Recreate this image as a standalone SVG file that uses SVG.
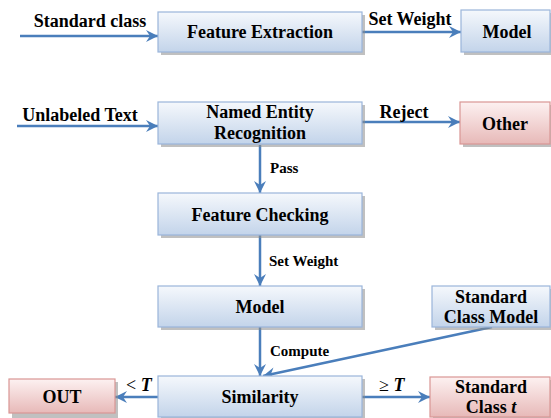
<svg xmlns="http://www.w3.org/2000/svg" width="551" height="418" viewBox="0 0 551 418" font-family="'Liberation Serif', 'DejaVu Serif', serif">
  <defs>
    <linearGradient id="gBlue" x1="0" y1="0" x2="0" y2="1">
      <stop offset="0" stop-color="#f5f8fc"/>
      <stop offset="1" stop-color="#c3d4ea"/>
    </linearGradient>
    <linearGradient id="gPink" x1="0" y1="0" x2="0" y2="1">
      <stop offset="0" stop-color="#fdf1f1"/>
      <stop offset="1" stop-color="#e7b9b8"/>
    </linearGradient>
    <marker id="arr" markerUnits="userSpaceOnUse" markerWidth="14" markerHeight="14" viewBox="0 0 14 14" refX="13" refY="7" orient="auto">
      <path d="M1,1 L13,7 L1,13 L5,7 z" fill="#4a7ebb"/>
    </marker>
  </defs>
  <style>
    .shadow { fill: #8c8c8c; opacity: 0.55; }
    .blue { fill: url(#gBlue); stroke: #9ab5da; stroke-width: 1.2; }
    .pink { fill: url(#gPink); stroke: #d99694; stroke-width: 1.2; }
    text { font-weight: bold; fill: #000; }
    .node { font-size: 18px; text-anchor: middle; }
    .lbl { font-size: 18px; }
    .small { font-size: 15px; }
    .edge { stroke: #4a7ebb; stroke-width: 2.5; fill: none; marker-end: url(#arr); }
  </style>

  <!-- connectors -->
  <g id="connectors">
    <line class="edge" x1="20" y1="36" x2="158" y2="36"/>
    <line class="edge" x1="362" y1="32" x2="461" y2="32"/>
    <line class="edge" x1="17" y1="126" x2="158" y2="126"/>
    <line class="edge" x1="362" y1="122" x2="460" y2="122"/>
    <line class="edge" x1="260" y1="145" x2="260" y2="193"/>
    <line class="edge" x1="260" y1="235" x2="260" y2="286"/>
    <line class="edge" x1="260" y1="327" x2="260" y2="376"/>
    <line class="edge" x1="492" y1="327" x2="263" y2="376"/>
    <line class="edge" x1="158" y1="397" x2="115" y2="397"/>
    <line class="edge" x1="362" y1="397" x2="430" y2="397"/>

    <text class="lbl" x="90" y="27" text-anchor="middle">Standard class</text>
    <text class="lbl" x="410" y="25" text-anchor="middle">Set Weight</text>
    <text class="lbl" x="80" y="121" text-anchor="middle">Unlabeled Text</text>
    <text class="lbl" x="404" y="118" text-anchor="middle">Reject</text>
    <text class="small" x="270" y="173">Pass</text>
    <text class="small" x="269" y="266">Set Weight</text>
    <text class="small" x="270" y="356">Compute</text>
    <text class="lbl" x="126" y="391"><tspan font-weight="normal">&lt;</tspan> <tspan font-style="italic">T</tspan></text>
    <text class="lbl" x="379" y="391"><tspan font-weight="normal">≥</tspan> <tspan font-style="italic">T</tspan></text>
  </g>

  <g id="feature-extraction">
    <rect class="shadow" x="161" y="15" width="204" height="40"/>
    <rect class="blue" x="158" y="12" width="204" height="40"/>
    <text class="node" x="260" y="38">Feature Extraction</text>
  </g>

  <g id="model-top">
    <rect class="shadow" x="464" y="13" width="90" height="42"/>
    <rect class="blue" x="461" y="10" width="89" height="42"/>
    <text class="node" x="507" y="38">Model</text>
  </g>

  <g id="ner">
    <rect class="shadow" x="161" y="105" width="204" height="42"/>
    <rect class="blue" x="158" y="102" width="204" height="42"/>
    <text class="node" x="260" y="118">Named Entity</text>
    <text class="node" x="260" y="139">Recognition</text>
  </g>

  <g id="other">
    <rect class="shadow" x="463" y="105" width="91" height="42"/>
    <rect class="pink" x="460" y="102" width="90" height="42"/>
    <text class="node" x="505" y="130">Other</text>
  </g>

  <g id="feature-checking">
    <rect class="shadow" x="161" y="196" width="204" height="42"/>
    <rect class="blue" x="158" y="193" width="204" height="42"/>
    <text class="node" x="260" y="221">Feature Checking</text>
  </g>

  <g id="model">
    <rect class="shadow" x="161" y="289" width="204" height="41"/>
    <rect class="blue" x="158" y="286" width="204" height="41"/>
    <text class="node" x="260" y="313">Model</text>
  </g>

  <g id="standard-class-model">
    <rect class="shadow" x="435" y="289" width="119" height="41"/>
    <rect class="blue" x="432" y="286" width="118" height="41"/>
    <text class="node" x="491" y="303">Standard</text>
    <text class="node" x="491" y="323">Class Model</text>
  </g>

  <g id="similarity">
    <rect class="shadow" x="161" y="379" width="204" height="41"/>
    <rect class="blue" x="158" y="376" width="204" height="41"/>
    <text class="node" x="260" y="403">Similarity</text>
  </g>

  <g id="out">
    <rect class="shadow" x="12" y="382" width="106" height="36"/>
    <rect class="pink" x="9" y="379" width="106" height="34"/>
    <text class="node" x="62" y="403">OUT</text>
  </g>

  <g id="standard-class-t">
    <rect class="shadow" x="433" y="380" width="121" height="40"/>
    <rect class="pink" x="430" y="377" width="120" height="40"/>
    <text class="node" x="491" y="393">Standard</text>
    <text class="node" x="491" y="413">Class <tspan font-style="italic">t</tspan></text>
  </g>
</svg>
